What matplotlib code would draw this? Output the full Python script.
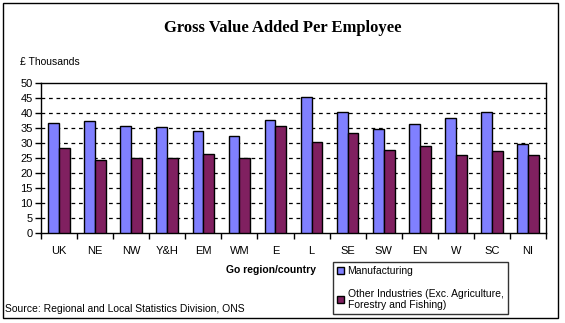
import matplotlib
matplotlib.use("Agg")
import matplotlib.pyplot as plt
import numpy as np
from matplotlib.patches import Rectangle

categories = ["UK", "NE", "NW", "Y&H", "EM", "WM", "E", "L", "SE", "SW", "EN", "W", "SC", "NI"]
manufacturing = [36.5, 37.2, 35.5, 35.2, 33.8, 32.2, 37.5, 45.1, 40.2, 34.5, 36.2, 38.2, 40.2, 29.5]
other = [28.2, 24.3, 24.9, 24.9, 26.2, 24.9, 35.5, 30.2, 33.2, 27.5, 28.9, 25.9, 27.2, 25.9]
labels = ["Manufacturing", "Other Industries (Exc. Agriculture,\nForestry and Fishing)"]

plt.rcParams['font.family'] = ['Liberation Sans', 'DejaVu Sans']
W, H = 565, 323
fig = plt.figure(figsize=(W/100, H/100), dpi=100)
ax = fig.add_axes([41/W, 1-233.3/H, (546-41)/W, (233.3-82.7)/H])

x = np.arange(len(categories))
bw = 0.3
b1 = ax.bar(x - bw/2, manufacturing, bw, color="#8080FF", edgecolor="black", linewidth=1.0, label=labels[0], zorder=3)
b2 = ax.bar(x + bw/2, other, bw, color="#802060", edgecolor="black", linewidth=1.0, label=labels[1], zorder=3)

ax.set_xlim(-0.5, len(categories)-0.5)
ax.set_ylim(0, 50)
ax.set_yticks(range(0, 51, 5))
ax.set_xticks(x)
ax.set_xticklabels(categories)
ax.set_xticks(np.arange(-0.5, len(categories), 1), minor=True)
ax.tick_params(axis='x', which='major', length=0, pad=9, labelsize=8)
ax.tick_params(axis='x', which='minor', length=4, direction='out', width=1)
ax.tick_params(axis='y', length=4, direction='out', width=1, labelsize=8, pad=2)
for y in range(5, 50, 5):
    ax.axhline(y, color="black", linestyle=(0, (3, 3)), linewidth=0.9, zorder=1)
for s in ax.spines.values():
    s.set_linewidth(1.0)
    s.set_color("black")

fig.text(283/W, 1-28/H, "Gross Value Added Per Employee", family=["Liberation Serif"],
         fontweight="bold", fontsize=12, ha="center", va="center")
fig.text(20/W, 1-62/H, "£ Thousands", fontsize=7.5, ha="left", va="center")
fig.text(271/W, 1-270/H, "Go region/country", fontsize=7.5, fontweight="bold", ha="center", va="center")
fig.text(5/W, 1-309/H, "Source: Regional and Local Statistics Division, ONS", fontsize=7.5, ha="left", va="center")

leg = fig.legend(handles=[b1, b2], labels=labels, loc="upper left",
                 bbox_to_anchor=(333/W, 1-262/H), frameon=True, fancybox=False,
                 edgecolor="black", fontsize=7.5, handlelength=0.7, handleheight=0.7,
                 handletextpad=0.3, labelspacing=1.2, borderpad=0.4, borderaxespad=0)
leg.get_frame().set_linewidth(1.0)

fig.patches.append(Rectangle((3/W, 1-318/H), (558-3)/W, (318-3)/H, transform=fig.transFigure,
                             fill=False, edgecolor="black", linewidth=1.0))

fig.savefig("out.png", dpi=100)
